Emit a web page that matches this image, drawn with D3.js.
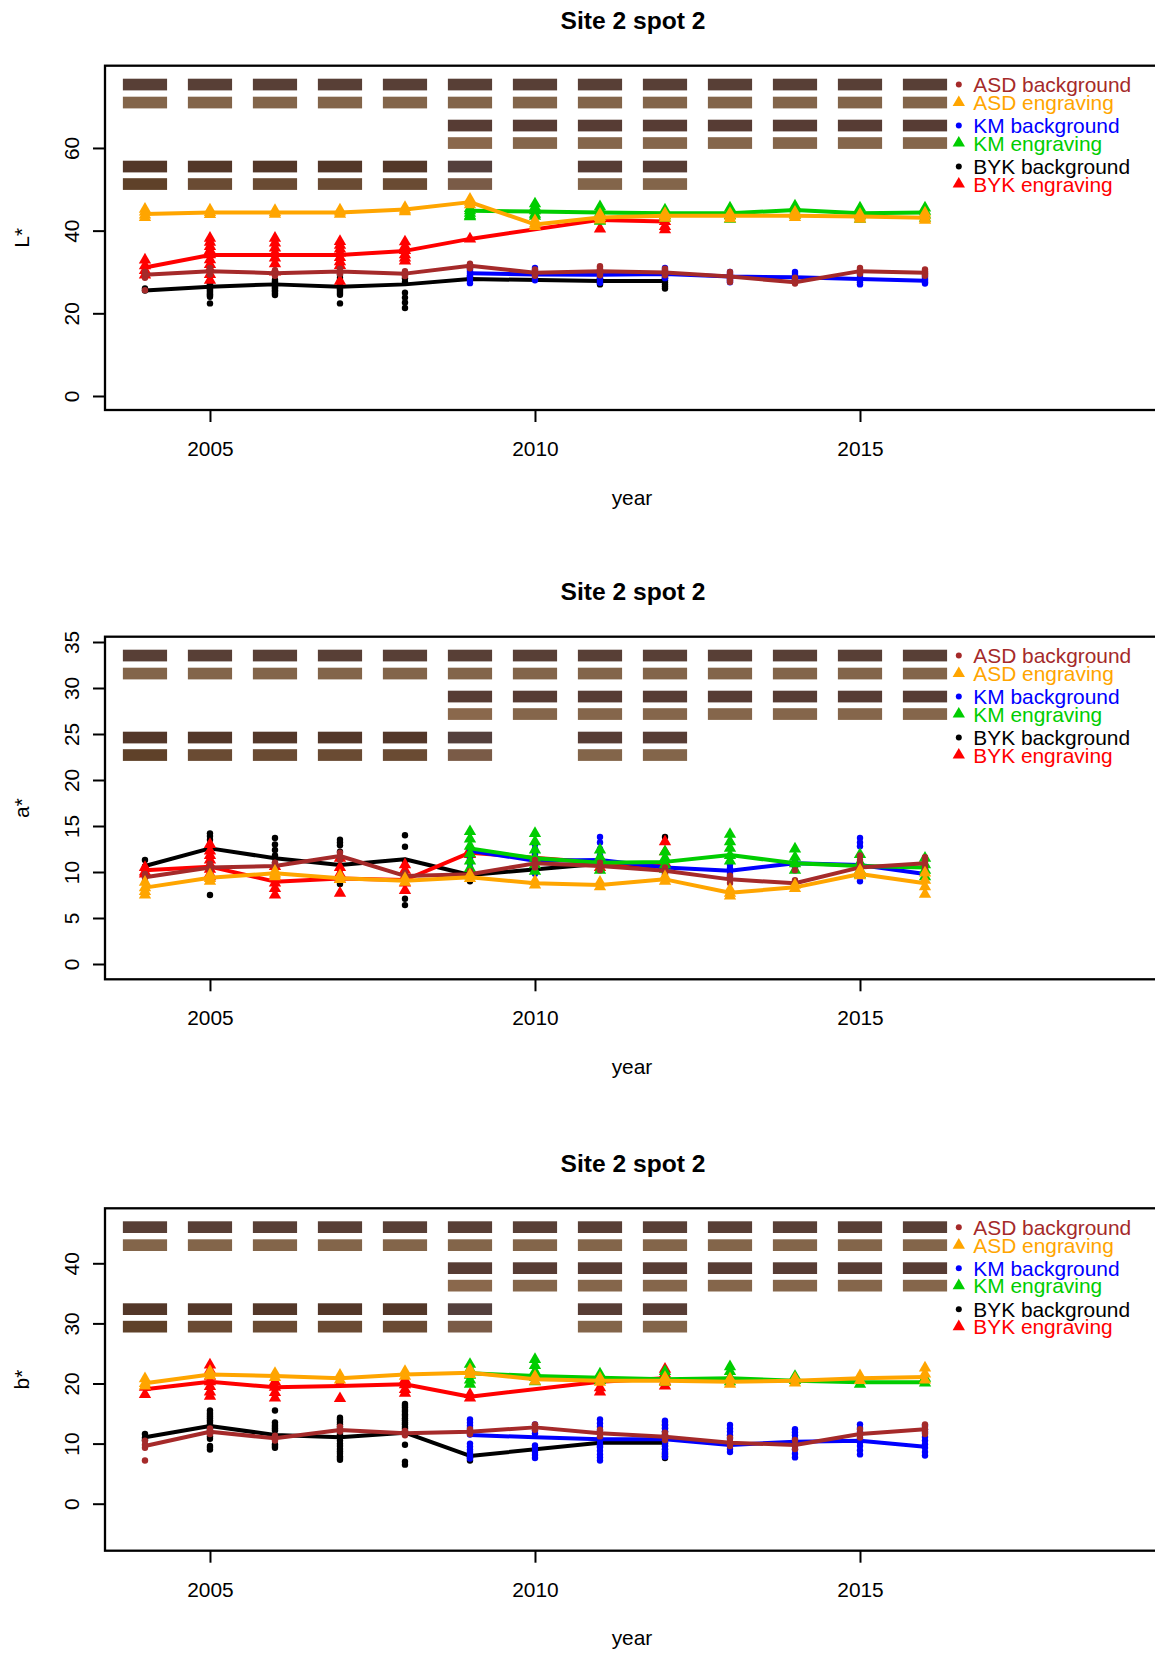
<!DOCTYPE html>
<html><head><meta charset="utf-8">
<script src="https://cdn.jsdelivr.net/npm/d3@7"></script>
<style>
body{margin:0;background:#fff}
svg{display:block}
text{font-family:"Liberation Sans",Arial,Helvetica,sans-serif}
</style>
</head><body>
<svg id="c" width="1155" height="1654"></svg>
<script>
// ---------------- DATA ----------------
const yearsASD = [2004,2005,2006,2007,2008,2009,2010,2011,2012,2013,2014,2015,2016];
const yearsKM  = [2009,2010,2011,2012,2013,2014,2015,2016];
const yearsBYK = [2004,2005,2006,2007,2008,2009,2011,2012];
const xTicks = [2005, 2010, 2015];
const yTicksL = [0,20,40,60];
const yTicksA = [0,5,10,15,20,25,30,35];
const yTicksB = [0,10,20,30,40];
const seriesNames = ["ASD background","ASD engraving","KM background","KM engraving","BYK background","BYK engraving"];
const panelTitles = ["Site 2 spot 2","Site 2 spot 2","Site 2 spot 2"];
const yLabels = ["L*","a*","b*"];

// L*
const L_ASD_bg = [29.3,30.2,29.7,30.1,29.6,31.5,29.8,30.2,29.9,28.9,27.5,30.2,29.8];
const L_ASD_bg_pts = [[30.0,29.6,29.3,28.9,28.6,25.6],[31.0,30.7,30.5,30.1,29.8,29.4],[30.4,30.0,29.7,29.4,29.1],[30.8,30.4,30.1,29.8,29.5],[30.2,29.9,29.5,29.2,29.0],[32.0,31.7,31.4,31.1,30.9],[30.6,30.2,29.8,29.4,29.1],[31.4,31.0,30.6,30.2,29.9,29.5,29.2],[30.8,30.4,29.9,29.5,29.2],[30.0,29.6,29.2,28.8,28.4,28.0,27.6],[28.6,28.2,27.9,27.5,27.2],[31.0,30.6,30.2,29.9,29.6],[30.6,30.2,29.9,29.5,29.1]];
const L_ASD_eng = [44.0,44.4,44.4,44.4,45.1,46.9,41.5,43.2,43.6,43.6,43.6,43.4,43.1];
const L_ASD_eng_pts = [[45.2,44.5,43.8,43.2],[45.0,44.4,43.9],[44.9,44.4,44.0],[45.0,44.5,44.0],[45.6,45.0,44.6],[47.6,46.9,46.3],[42.4,41.6,41.0],[44.0,43.2,42.6],[44.2,43.6,43.0],[44.2,43.5,42.9],[44.5,43.8,43.2],[44.0,43.3,42.8],[44.3,43.6,42.9,42.5]];
const L_KM_bg = [29.7,29.4,29.3,29.5,28.9,28.7,28.3,27.9];
const L_KM_bg_pts = [[31.7,31.1,30.6,30.1,29.6,29.0,28.5,27.9,27.3],[31.0,30.5,30.0,29.5,29.0,28.5,28.0],[30.5,30.0,29.5,29.0,28.5,27.9,27.4],[31.0,30.5,30.0,29.6,29.2,28.8,28.5],[30.0,29.5,29.0,28.6,28.2,27.8,27.5],[30.0,29.5,29.0,28.6,28.2,27.8,27.5],[30.0,29.5,29.0,28.5,28.0,27.5,27.0],[29.5,29.0,28.6,28.2,27.8,27.5,27.2]];
const L_KM_eng = [44.8,44.6,44.4,44.2,44.2,45.0,44.2,44.4];
const L_KM_eng_pts = [[45.4,44.8,44.2,43.6,43.4],[46.5,45.7,44.8,44.0,43.5],[45.8,45.0,44.2,43.4,42.3],[45.0,44.3,43.6,43.0],[45.5,44.6,43.7,42.8],[46.0,45.3,44.6,43.8],[45.5,44.6,43.6,42.8],[45.5,44.7,43.8,43.0]];
const L_BYK_bg = [25.5,26.45,27.0,26.45,27.0,28.3,27.8,27.8];
const L_BYK_bg_pts = [[26.0,25.5],[27.7,27.3,27.0,26.7,26.4,26.1,25.8,25.5,25.2,24.9,24.6,24.3,24.0,22.4],[28.1,27.7,27.4,27.0,26.7,26.3,26.0,25.6,25.3,24.8,24.4],[29.3,28.6,28.0,27.5,27.0,26.6,26.2,25.8,25.4,24.9,24.5,22.4],[28.5,27.6,25.0,23.8,22.6,21.3],[29.0,28.6,28.3],[28.5,28.0,27.6,27.3,27.0],[29.0,28.5,28.0,27.5,27.0,26.5,26.0]];
const L_BYK_eng = [31.1,34.1,34.1,34.1,35.1,38.0,42.6,42.2];
const L_BYK_eng_pts = [[32.9,31.5,30.4,29.3],[38.2,37.2,36.2,35.2,34.2,33.0,31.8,30.6,29.4,28.0],[38.2,37.0,35.8,34.6,33.4,32.0,30.0],[37.4,36.5,35.6,34.6,33.5,32.5,31.6,27.8],[37.3,36.2,35.2,34.2,33.4,32.7],[38.0],[43.5,42.6,40.4],[42.2,41.0,40.2]];

// a*
const A_ASD_bg = [9.42,10.5,10.65,11.74,9.57,9.75,10.94,10.65,10.14,9.2,8.77,10.5,10.94];
const A_ASD_bg_pts = [[9.8,9.4,9.0],[10.9,10.4,10.1],[11.0,10.6,10.3],[12.1,11.7,11.3],[9.9,9.5,9.2],[10.1,9.7,9.4],[11.3,10.9,10.5],[11.0,10.6,10.2],[10.5,10.1,9.7],[9.6,9.2,8.8],[10.2,9.1,8.6],[11.8,11.3,10.9,10.5,10.2],[11.6,11.2,11.0,10.7,10.4]];
const A_ASD_eng = [8.3,9.38,9.86,9.31,9.06,9.42,8.77,8.59,9.2,7.75,8.33,9.78,8.77];
const A_ASD_eng_pts = [[8.9,8.3,7.9,7.5],[9.7,9.3,9.0],[10.1,9.8,9.5],[9.6,9.2],[9.3,8.9],[9.7,9.3],[9.0,8.6],[8.9,8.4],[9.5,9.0],[8.1,7.7,7.4],[8.6,8.2],[10.2,9.6],[9.9,9.1,8.4,7.6]];
const A_KM_bg = [12.3,11.23,11.3,10.5,10.14,10.94,10.76,9.78];
const A_KM_bg_pts = [[12.8,12.4,12.0,11.5,11.0,10.5,10.0],[13.0,12.5,11.9,11.3,10.8,10.3,9.8],[13.8,13.2,12.5,11.8,11.2,10.7,10.2],[11.5,11.0,10.6,10.2,9.8],[10.8,10.4,10.1,9.8,9.5],[11.5,11.1,10.8,10.5,10.2],[13.7,13.2,12.8,11.0,10.0,9.5,9.0],[10.3,10.0,9.8,9.6,9.4]];
const A_KM_eng = [12.57,11.49,11.0,11.1,11.85,10.94,10.65,10.5];
const A_KM_eng_pts = [[14.4,13.6,12.8,12.0,11.2,10.4,9.6],[14.2,13.3,12.4,11.5,10.8,10.1],[12.4,11.6,10.9,10.2],[12.2,11.5,10.8,10.3],[14.1,13.3,12.6,11.8,11.2],[12.5,11.6,10.9,10.2],[11.9,11.0,10.2,9.7],[11.5,10.8,10.2,9.5]];
const A_BYK_bg = [10.65,12.57,11.49,10.76,11.38,9.67,10.9,10.6];
const A_BYK_bg_pts = [[11.3,10.6,10.2],[14.2,13.9,13.5,13.0,12.6,12.2,9.2,7.5],[13.7,13.0,12.4,11.8,11.0,10.5],[13.5,13.2,12.9,12.2,10.3,8.7],[14.0,12.75,11.2,10.0,7.1,6.4],[9.4,9.0],[11.2,10.5],[13.8,10.0]];
const A_BYK_eng = [10.2,10.58,8.95,9.3,9.13,12.1,11.0,10.6];
const A_BYK_eng_pts = [[10.5,10.0,9.8],[13.0,12.3,11.8,11.3,10.8,10.3,9.8,9.5],[10.6,9.5,8.8,8.2,7.5],[11.5,10.5,9.8,9.2,7.7],[10.8,10.2,9.5,8.8,8.0],[12.4,11.9],[11.5,10.5],[13.3,12.2,11.0]];

// b*
const B_ASD_bg = [9.6,11.98,10.88,12.26,11.71,11.98,12.7,11.71,11.15,10.15,9.77,11.6,12.38];
const B_ASD_bg_pts = [[10.5,9.8,9.3,7.2],[12.5,12.0,11.6],[11.3,10.9,10.5],[12.8,12.4,12.0],[12.1,11.7,11.4],[12.4,12.0,11.6],[13.2,12.7,12.3],[12.3,11.7,11.2],[11.8,11.2,10.6],[11.0,10.3,9.6],[10.6,9.8,9.1],[12.4,11.7,11.0],[13.2,12.8,12.4,12.0,11.6]];
const B_ASD_eng = [20.03,21.5,21.25,20.86,21.5,21.8,20.7,20.47,20.47,20.3,20.47,20.86,21.1];
const B_ASD_eng_pts = [[20.8,20.0,19.6],[22.0,21.3],[21.7,21.0],[21.4,20.6],[22.0,21.2],[22.3,21.5],[21.2,20.4],[20.9,20.2],[21.0,20.2],[20.8,19.9],[20.9,20.1],[21.3,20.5],[22.6,21.6,20.6]];
const B_KM_bg = [11.43,11.05,10.71,10.71,9.77,10.32,10.49,9.49];
const B_KM_bg_pts = [[14.0,13.5,13.0,12.6,12.2,11.8,11.5,10.0,9.5,9.0,8.6,8.2,7.8,7.5],[13.2,12.7,12.2,11.7,9.7,9.2,8.6,8.1,7.6],[14.0,13.4,12.8,12.2,11.6,11.0,10.5,9.9,9.4,8.8,8.2,7.7,7.2],[13.8,13.2,12.6,12.0,11.4,10.8,10.2,9.6,9.0,8.4,7.8],[13.1,12.5,12.0,11.4,10.8,10.2,9.6,9.1,8.6],[12.4,11.9,11.4,10.8,10.2,9.6,9.0,8.3,7.7],[13.2,12.6,12.0,11.4,10.8,10.2,9.6,8.9,8.2],[13.0,12.4,11.8,11.1,10.5,9.9,9.3,8.6,8.0]];
const B_KM_eng = [21.7,21.25,20.97,20.7,20.86,20.47,20.2,20.2];
const B_KM_eng_pts = [[23.2,22.4,21.4,20.6,19.9],[24.0,23.0,22.0,21.0,20.3],[21.6,20.5],[22.0,21.2,20.2],[22.8,22.0,21.0,20.3],[21.2,20.5],[20.5,19.9],[20.9,20.1]];
const B_BYK_bg = [11.05,12.93,11.43,11.05,11.82,7.94,10.15,10.15];
const B_BYK_bg_pts = [[11.6,11.0,10.6],[15.5,15.1,14.8,14.5,14.2,13.9,13.6,13.2,12.9,12.5,12.2,11.9,11.6,11.2,10.8,9.6,9.3,9.0],[15.5,13.5,13.1,12.8,12.5,12.2,9.9,9.6,9.3],[14.3,14.0,13.6,13.2,12.8,12.4,12.0,11.6,11.3,10.9,10.5,10.0,9.6,9.1,8.7,8.3,7.9,7.6,7.3],[16.6,16.3,16.0,15.6,15.3,14.9,14.6,14.2,13.9,13.5,13.2,12.8,12.5,12.1,11.8,9.8,7.0,6.5],[8.2,7.9,7.6,7.2],[10.8,10.2,9.6],[13.6,13.0,12.5,12.0,11.5,11.0,10.5,10.0,9.6,9.1,8.6,8.2,7.9,7.6]];
const B_BYK_eng = [19.03,20.3,19.37,19.58,19.86,17.8,20.3,20.86];
const B_BYK_eng_pts = [[19.4,18.2],[23.1,22.2,21.2,20.3,19.5,18.6,17.9],[20.3,19.4,18.5,17.6],[20.0,17.5],[20.6,19.8,19.0,18.4],[18.2,17.6],[19.3,18.6],[22.4,21.6,20.4,19.6]];

// ---------------- STYLE / LAYOUT ----------------
const seriesColors = ["#A52A2A","#FFA500","#0000FF","#00CD00","#000000","#FF0000"];
const seriesShape  = ["dot","tri","dot","tri","dot","tri"];
const seriesYears  = [yearsASD, yearsASD, yearsKM, yearsKM, yearsBYK, yearsBYK];
const drawOrder = [4,5,2,3,0,1];
const swatchFill = [
  y => "#583f36",
  y => "#83654a",
  y => "#573c34",
  y => (y === 2009 ? "#8a684c" : "#85664b"),
  y => (y === 2009 ? "#54403d" : (y >= 2011 ? "#573d35" : "#533729")),
  y => (y === 2004 ? "#5f4129" : (y === 2009 ? "#7a5b47" : (y >= 2011 ? "#83654a" : "#6a4b33")))
];
const swatchRowOffset = [13, 31, 54, 71.5, 95, 112.5];
const swatchRowH = 11.7;

const panels = [
  {top:65.7, bottom:410, dom:[-3.39,79.9], ticks:yTicksL,
   series:[[L_ASD_bg,L_ASD_bg_pts],[L_ASD_eng,L_ASD_eng_pts],[L_KM_bg,L_KM_bg_pts],[L_KM_eng,L_KM_eng_pts],[L_BYK_bg,L_BYK_bg_pts],[L_BYK_eng,L_BYK_eng_pts]]},
  {top:636.7, bottom:979.3, dom:[-1.663,35.576], ticks:yTicksA,
   series:[[A_ASD_bg,A_ASD_bg_pts],[A_ASD_eng,A_ASD_eng_pts],[A_KM_bg,A_KM_bg_pts],[A_KM_eng,A_KM_eng_pts],[A_BYK_bg,A_BYK_bg_pts],[A_BYK_eng,A_BYK_eng_pts]]},
  {top:1208.3, bottom:1550.7, dom:[-7.82,49.15], ticks:yTicksB,
   series:[[B_ASD_bg,B_ASD_bg_pts],[B_ASD_eng,B_ASD_eng_pts],[B_KM_bg,B_KM_bg_pts],[B_KM_eng,B_KM_eng_pts],[B_BYK_bg,B_BYK_bg_pts],[B_BYK_eng,B_BYK_eng_pts]]}
];

const svg = d3.select("#c");
const x = d3.scaleLinear().domain([2003.385, 2019.6]).range([105, 1159]);
const FS = 20.9;
const tri = d3.symbol().type(d3.symbolTriangle).size(66);
const DOT_R = 3.2;

panels.forEach((p, pi) => {
  const y = d3.scaleLinear().domain(p.dom).range([p.bottom, p.top]);
  const g = svg.append("g");

  g.append("text").attr("x", 633).attr("y", p.top - 36.4)
    .attr("text-anchor","middle").style("font-weight","bold").style("font-size","24.6px")
    .text(panelTitles[pi]);

  const swRows = [yearsASD, yearsASD, yearsKM, yearsKM, yearsBYK, yearsBYK];
  swRows.forEach((yrs, ri) => {
    g.append("g").selectAll("rect").data(yrs).join("rect")
      .attr("x", d => x(d - 0.34)).attr("width", d => x(d + 0.34) - x(d - 0.34))
      .attr("y", p.top + swatchRowOffset[ri]).attr("height", swatchRowH)
      .attr("fill", d => swatchFill[ri](d));
  });

  seriesNames.forEach((nm, si) => {
    const cy = p.top + swatchRowOffset[si] + swatchRowH/2;
    const sx = x(2016.52);
    if (seriesShape[si] === "dot")
      g.append("circle").attr("cx", sx).attr("cy", cy).attr("r", 3).attr("fill", seriesColors[si]);
    else
      g.append("path").attr("d", tri).attr("transform", `translate(${sx},${cy})`).attr("fill", seriesColors[si]);
    g.append("text").attr("x", sx + 14.5).attr("y", cy + 7.5)
      .attr("fill", seriesColors[si]).style("font-size", FS + "px").text(nm);
  });

  drawOrder.forEach(si => {
    const [means, pts] = p.series[si];
    const yrs = seriesYears[si];
    const col = seriesColors[si];
    const flat = [];
    pts.forEach((arr, i) => arr.forEach(v => flat.push([yrs[i], v])));
    const pg = g.append("g");
    if (seriesShape[si] === "dot") {
      pg.selectAll("circle").data(flat).join("circle")
        .attr("cx", d => x(d[0])).attr("cy", d => y(d[1])).attr("r", DOT_R).attr("fill", col);
    } else {
      pg.selectAll("path").data(flat).join("path")
        .attr("d", tri).attr("transform", d => `translate(${x(d[0])},${y(d[1])})`).attr("fill", col);
    }
    const line = d3.line().x(d => x(d[0])).y(d => y(d[1]));
    g.append("path").datum(yrs.map((yr, i) => [yr, means[i]]))
      .attr("d", line).attr("fill","none").attr("stroke", col)
      .attr("stroke-width", 4).attr("stroke-linejoin","round").attr("stroke-linecap","round");
  });

  g.append("rect").attr("x", 105).attr("y", p.top).attr("width", 1159 - 105).attr("height", p.bottom - p.top)
    .attr("fill","none").attr("stroke","#000").attr("stroke-width", 2.3);

  const gy = g.append("g").attr("transform", "translate(105,0)")
    .call(d3.axisLeft(y).tickValues(p.ticks).tickSize(12).tickSizeOuter(0).tickFormat(d3.format("d")));
  gy.attr("font-size", null).attr("font-family", null);
  gy.select(".domain").remove();
  gy.selectAll(".tick line").attr("stroke","#000").attr("stroke-width", 2);
  gy.selectAll(".tick text").attr("x", null).attr("dy", null)
    .attr("transform","translate(-26.5,0) rotate(-90)").attr("text-anchor","middle")
    .attr("fill","#000").style("font-size", FS + "px");

  const gx = g.append("g").attr("transform", `translate(0,${p.bottom})`)
    .call(d3.axisBottom(x).tickValues(xTicks).tickSize(12).tickSizeOuter(0).tickFormat(d3.format("d")));
  gx.attr("font-size", null).attr("font-family", null);
  gx.select(".domain").remove();
  gx.selectAll(".tick line").attr("stroke","#000").attr("stroke-width", 2);
  gx.selectAll(".tick text").attr("y", 46).attr("dy", null).attr("fill","#000").style("font-size", FS + "px");

  g.append("text").attr("x", 632).attr("y", p.bottom + 94.5).attr("text-anchor","middle")
    .style("font-size", FS + "px").text("year");
  g.append("text").attr("transform", `translate(28.7,${(p.top + p.bottom)/2}) rotate(-90)`)
    .attr("text-anchor","middle").style("font-size", FS + "px").text(yLabels[pi]);
});
</script>
</body></html>
